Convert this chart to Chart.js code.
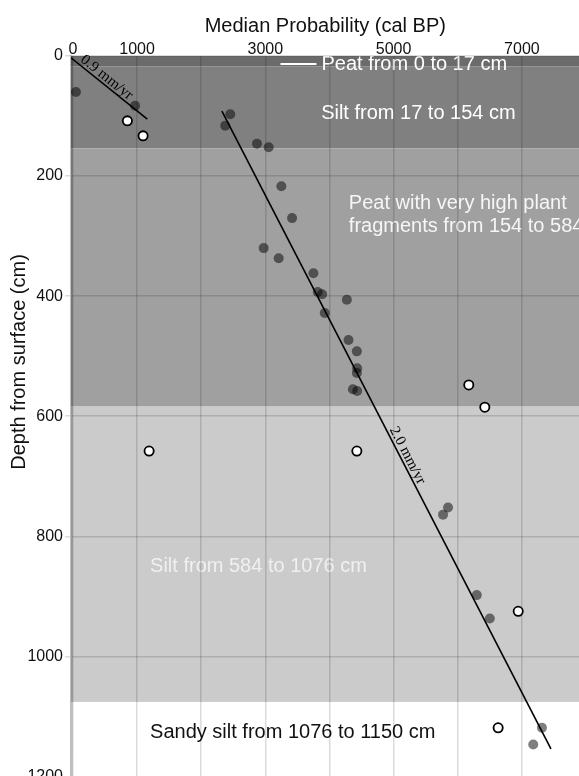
<!DOCTYPE html>
<html>
<head>
<meta charset="utf-8">
<script src="https://cdn.jsdelivr.net/npm/chart.js@4.4.1/dist/chart.umd.min.js"></script>
<style>
  html, body { margin:0; padding:0; background:#fff; overflow:hidden; }
  #wrap { width:579px; height:776px; overflow:hidden; }
</style>
</head>
<body>
<div id="wrap"><canvas id="ageDepth" width="586" height="788"></canvas></div>
<script>
// Radiocarbon ages used in the model (median, cal BP) and their depths (cm)
const datedAge   = [47, 969, 2453, 2375, 2870, 3052, 3250, 3417, 2974, 3208, 3750, 3817, 3885, 4271, 3927, 4297, 4427, 4432, 4427, 4365, 4432, 5849, 5771, 6297, 6500, 7313, 7177];
const datedDepth = [60, 83, 97, 116, 146, 152, 217, 270, 320, 337, 362, 393, 397, 406, 428, 473, 492, 520, 528, 555, 558, 752, 764, 898, 937, 1119, 1147];

// Rejected ages (open circles)
const rejectedAge   = [849, 1094, 1188, 6172, 6422, 4427, 6943, 6630];
const rejectedDepth = [108, 133, 658, 548, 585, 658, 925, 1119];

// Accumulation rate lines
const rateLabels = ['0.9 mm/yr', '2.0 mm/yr'];
const rate1Age = [-30, 1160];
const rate1Depth = [3, 105];
const rate2Age = [2323, 7453];
const rate2Depth = [92, 1154];

// Stratigraphy
const layerNames  = ['Peat from 0 to 17 cm', 'Silt from 17 to 154 cm', 'Peat with very high plant\nfragments from 154 to 584 cm', 'Silt from 584 to 1076 cm', 'Sandy silt from 1076 to 1150 cm'];
const layerTop    = [0, 17, 154, 584, 1076];
const layerBottom = [17, 154, 584, 1076, 1150];

// Axis ticks
const xGrid = [0, 1000, 2000, 3000, 4000, 5000, 6000, 7000];
const xTickLabels = [0, 1000, 3000, 5000, 7000];
const yTicks = [0, 200, 400, 600, 800, 1000, 1200];

// styles / label placement (in axis units)
const layerFill = ['#6b6b6b', '#808080', '#a0a0a0', '#cbcbcb', '#ffffff'];
const layerText = ['#ffffff', '#ffffff', '#f6f6f6', '#f0f0f0', '#111111'];
const labelAt = [[3875, 13.5], [3870, 95], [4302, 245.5], [1203, 851], [1203, 1127]];
const rateAt = [0.41, 0.545];
const SANS = '"Liberation Sans", Arial, sans-serif';

const toPts = (xs, ys) => xs.map((v, i) => ({x: v, y: ys[i]}));

// Layer backgrounds + their labels
const layersPlugin = {
  id: 'layers',
  beforeDraw(chart){
    const {ctx, chartArea: a, scales: {x, y}} = chart;
    ctx.save();
    layerTop.forEach((top, i)=>{
      const y0 = y.getPixelForValue(top);
      const y1 = y.getPixelForValue(layerBottom[i]);
      ctx.fillStyle = layerFill[i];
      ctx.fillRect(a.left, y0, a.right - a.left, y1 - y0);
    });
    ctx.font = '20px ' + SANS;
    ctx.textBaseline = 'middle';
    layerNames.forEach((name, i)=>{
      const px = x.getPixelForValue(labelAt[i][0]);
      const py = y.getPixelForValue(labelAt[i][1]);
      ctx.fillStyle = layerText[i];
      name.split('\n').forEach((line, k)=> ctx.fillText(line, px, py + k * 23.4));
      if(i === 0){
        ctx.strokeStyle = '#ffffff';
        ctx.lineWidth = 2;
        ctx.beginPath();
        ctx.moveTo(px - 41, py);
        ctx.lineTo(px - 5, py);
        ctx.stroke();
      }
    });
    ctx.restore();
  },
  afterDatasetsDraw(chart){
    const {ctx, scales: {x, y}} = chart;
    const lines = [[rate1Age, rate1Depth], [rate2Age, rate2Depth]];
    ctx.save();
    ctx.font = '15px "Liberation Serif", "Times New Roman", serif';
    ctx.fillStyle = '#000';
    ctx.textAlign = 'center';
    ctx.textBaseline = 'alphabetic';
    lines.forEach(([ages, depths], i)=>{
      const x0 = x.getPixelForValue(ages[0]), y0 = y.getPixelForValue(depths[0]);
      const x1 = x.getPixelForValue(ages[1]), y1 = y.getPixelForValue(depths[1]);
      const f = rateAt[i];
      ctx.save();
      ctx.translate(x0 + (x1 - x0) * f, y0 + (y1 - y0) * f);
      ctx.rotate(Math.atan2(y1 - y0, x1 - x0));
      ctx.fillText(rateLabels[i], 0, -3);
      ctx.restore();
    });
    ctx.restore();
  },
  afterDraw(chart){
    const {ctx} = chart;
    ctx.save();
    ctx.font = '20px ' + SANS;
    ctx.fillStyle = '#111';
    ctx.textAlign = 'center';
    ctx.textBaseline = 'middle';
    ctx.translate(19, 362);
    ctx.rotate(-Math.PI / 2);
    ctx.fillText('Depth from surface (cm)', 0, 0);
    ctx.restore();
  }
};

const ctx = document.getElementById('ageDepth').getContext('2d');

new Chart(ctx, {
  type: 'scatter',
  data: {
    datasets: [
      {label: 'dated', data: toPts(datedAge, datedDepth), pointRadius: 5, pointHoverRadius: 5,
        backgroundColor: 'rgba(0,0,0,0.5)', borderWidth: 0},
      {label: rateLabels[0], data: toPts(rate1Age, rate1Depth), showLine: true, pointRadius: 0,
        borderColor: '#000', borderWidth: 1.6},
      {label: rateLabels[1], data: toPts(rate2Age, rate2Depth), showLine: true, pointRadius: 0,
        borderColor: '#000', borderWidth: 1.6},
      {label: 'rejected', data: toPts(rejectedAge, rejectedDepth), pointRadius: 4.6, pointHoverRadius: 4.6,
        backgroundColor: '#fff', borderColor: '#000', borderWidth: 1.8}
    ]
  },
  options: {
    responsive: false,
    animation: false,
    layout: { padding: 0 },
    plugins: { legend: {display: false}, tooltip: {enabled: false} },
    scales: {
      x: {
        type: 'linear', position: 'top', min: -30, max: 7900,
        afterBuildTicks: s => { s.ticks = xGrid.map(v => ({value: v})); },
        afterFit: s => { s.height = 56; },
        ticks: {
          autoSkip: false, maxRotation: 0, padding: -3,
          color: '#111', font: {family: SANS, size: 16},
          callback: v => xTickLabels.includes(v) ? String(v) : ''
        },
        grid: { color: 'rgba(0,0,0,0.14)', lineWidth: 1.5, drawTicks: false },
        border: { display: false },
        title: { display: true, text: 'Median Probability (cal BP)', color: '#111',
          font: {family: SANS, size: 20}, padding: {top: 14, bottom: 0} }
      },
      y: {
        type: 'linear', reverse: true, min: 0, max: 1200,
        afterBuildTicks: s => { s.ticks = yTicks.map(v => ({value: v})); },
        afterFit: s => { s.width = 71; },
        ticks: { padding: 2, color: '#111', font: {family: SANS, size: 16}, callback: v => String(v) },
        grid: { color: 'rgba(0,0,0,0.14)', lineWidth: 1.5, tickLength: 6 },
        border: { display: true, color: 'rgba(0,0,0,0.25)', width: 2.5 }
      }
    }
  },
  plugins: [layersPlugin]
});
</script>
</body>
</html>
